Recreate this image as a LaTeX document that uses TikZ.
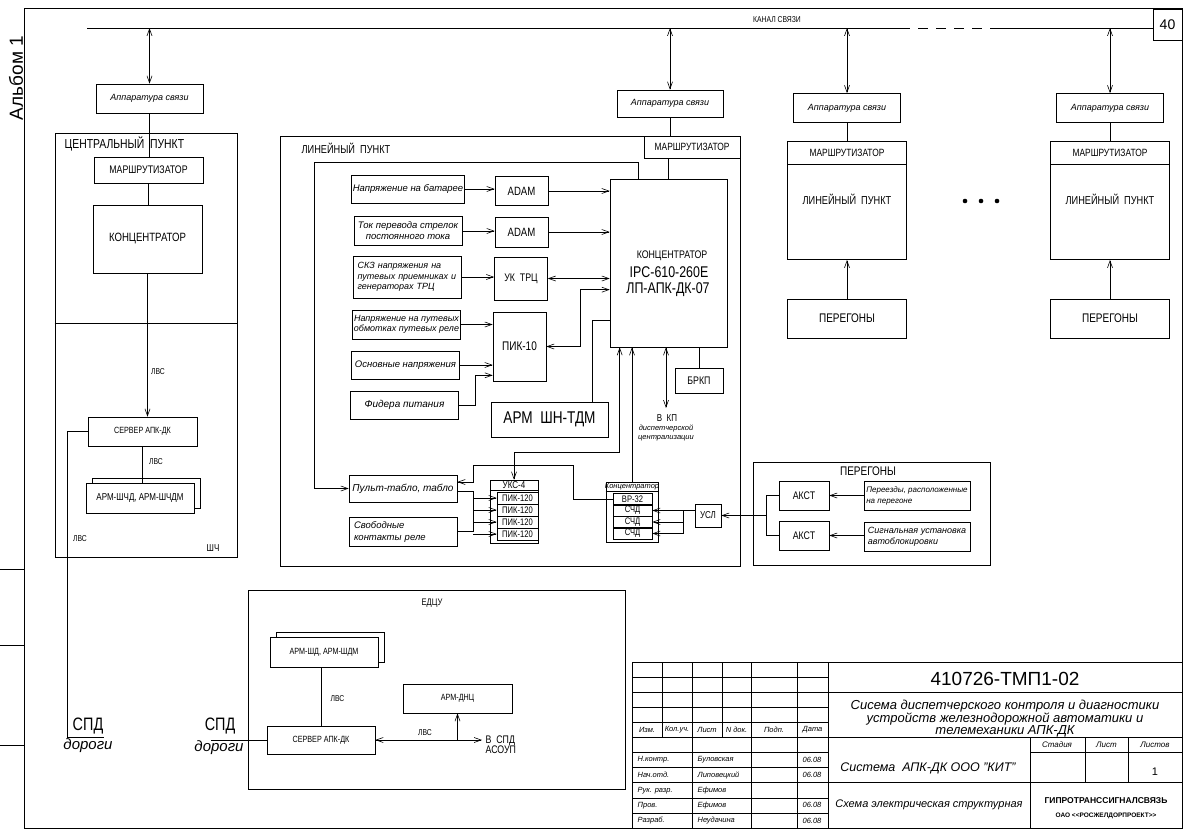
\documentclass[tikz,border=0pt]{standalone}
\usepackage{fontspec}
\setmainfont{Liberation Sans}
\newfontfamily\gost[FakeStretch=0.8]{Liberation Sans}
\usetikzlibrary{arrows.meta,calc}

\begin{document}
\begin{tikzpicture}[x=1pt,y=-1pt,line width=0.6pt,
  >={Straight Barb[length=7pt,width=5pt]},
  box/.style={draw,inner sep=1pt,align=center},
  frm/.style={draw,line width=0.8pt},
  gt/.style 2 args={font=\gost\fontsize{#1}{#2}\selectfont},
  hw/.style 2 args={font=\itshape\fontsize{#1}{#2}\selectfont}]
\path[fill=white] (0,0) rectangle (1185,835);
\useasboundingbox (0,0) rectangle (1185,835);

% Sheet frame
\draw[frm] (24,8) rectangle (1182,828);
\foreach \y in {569,645,745} \draw (0,\y) -- (24,\y);
\node[rotate=90,font=\fontsize{19}{19}\selectfont] (album) at (16,78) {Альбом 1};
\node[box,minimum width=29,minimum height=31,font=\fontsize{14}{14}\selectfont] (sheetno) at (1167.5,24.5) {40};

% Channel
\coordinate (chL) at (87,28);
\coordinate (chD1) at (900,28);
\coordinate (chD2) at (1000,28);
\draw (chL) -- (chD1);
\draw[dash pattern=on 10pt off 8pt] (chD1) -- (chD2);
\draw (chD2) -- (sheetno.west |- chL);
\node[gt={8.5}{9}] (chlabel) at (777,20) {КАНАЛ СВЯЗИ};

% Central point
\node[box,hw={9}{10},minimum width=107,minimum height=29] (apc1) at (149.5,98.5) {Аппаратура связи};
\node[frm,minimum width=182,minimum height=424] (cp) at (146,345) {};
\node[gt={13}{13},anchor=west] (cptitle) at (61,144) {ЦЕНТРАЛЬНЫЙ\ \ ПУНКТ};
\node[box,gt={11}{11},minimum width=109,minimum height=26] (mr1) at (148.5,170) {МАРШРУТИЗАТОР};
\node[box,gt={12}{12},minimum width=109,minimum height=68] (kc1) at (147.5,239) {КОНЦЕНТРАТОР};
\coordinate (cpdiv) at (0,323);
\draw (cp.west |- cpdiv) -- (cp.east |- cpdiv);
\node[box,gt={9}{9},minimum width=109,minimum height=29] (srv1) at (142.5,431.5) {СЕРВЕР АПК-ДК};
\node[box,minimum width=108,minimum height=30] (arm1b) at (146,493) {};
\node[box,fill=white,gt={10}{10},minimum width=108,minimum height=30] (arm1) at (140,498) {АРМ-ШЧД, АРМ-ШЧДМ};
\node[gt={8.5}{9}] (lvs1) at (158,372) {ЛВС};
\node[gt={8.5}{9}] (lvs2) at (156,462) {ЛВС};
\node[gt={8.5}{9}] (lvs3) at (80,539) {ЛВС};
\node[gt={10}{10}] (shch) at (213,548) {ШЧ};
\node[gt={18}{18}] (spd1) at (88,726) {СПД};
\node[hw={15}{15}] (dor1) at (88,746) {дороги};
\coordinate (spd1L) at (104,737);
\draw[<->] (apc1.north |- chL) -- (apc1.north);
\draw (apc1.south) -- (apc1.south |- mr1.north);
\draw (mr1.south) -- (mr1.south |- kc1.north);
\draw[->] (kc1.south) -- (kc1.south |- srv1.north);
\draw (srv1.south) -- (srv1.south |- arm1.north);
\draw (srv1.west) -- ++(-20,0) |- (spd1L);

% EDCU
\node[frm,minimum width=377,minimum height=199] (edcu) at (436.5,689.5) {};
\node[gt={9.5}{10}] (edcut) at (432,603) {ЕДЦУ};
\node[box,minimum width=108,minimum height=30] (arm2b) at (330,647) {};
\node[box,fill=white,gt={9}{9},minimum width=108,minimum height=30] (arm2) at (324,652) {АРМ-ШД, АРМ-ШДМ};
\node[box,gt={9}{9},minimum width=108,minimum height=28] (srv2) at (321,740) {СЕРВЕР АПК-ДК};
\node[box,gt={9}{9},minimum width=109,minimum height=29] (dnc) at (457.5,698.5) {АРМ-ДНЦ};
\node[gt={11}{10},align=left,anchor=west] (vspd) at (482,745) {В\ \ СПД\\АСОУП};
\node[gt={8.5}{9},anchor=west] (lvs4) at (327,699) {ЛВС};
\node[gt={8.5}{9}] (lvs5) at (425,733) {ЛВС};
\node[gt={18}{18}] (spd2) at (220,726) {СПД};
\node[hw={15}{15}] (dor2) at (219,748) {дороги};
\coordinate (spd2L) at (211,740);
\draw (srv2.north) -- (srv2.north |- arm2.south);
\draw (spd2L) -- (srv2.west);
\draw[<->] (srv2.east) -- (srv2.east -| vspd.west);
\draw[->] (dnc.south |- srv2.east) -- (dnc.south);

% Line point
\node[box,hw={9}{10},minimum width=106,minimum height=27] (apc2) at (670,103.5) {Аппаратура связи};
\node[frm,minimum width=460,minimum height=430] (lp) at (510,351) {};
\node[gt={11.5}{12},anchor=west] (lptitle) at (298,148) {ЛИНЕЙНЫЙ\ \ ПУНКТ};
\node[box,gt={10.5}{11},minimum width=96,minimum height=22,anchor=north east] (mr2) at (lp.north east) {МАРШРУТИЗАТОР};
\node[box,minimum width=117,minimum height=168] (kc2) at (668.5,263) {};
\node[gt={11}{11}] (kc2a) at (672,256) {КОНЦЕНТРАТОР};
\node[gt={15.5}{15.5}] (kc2b) at (669,272) {IPC-610-260E};
\node[gt={15.5}{15.5}] (kc2c) at (668,290) {ЛП-АПК-ДК-07};
\node[box,gt={11}{11},minimum width=48,minimum height=25] (brkp) at (699,380.5) {БРКП};
\coordinate (vkp) at (666,408);
\node[gt={10}{10}] (vkpt) at (667,418) {В\ \ КП};
\node[hw={7.5}{8}] (vkpt2) at (666,428) {диспетчерской};
\node[hw={7.5}{8}] (vkpt3) at (666,438) {централизации};
\draw[<->] (apc2.north |- chL) -- (apc2.north);
\draw (apc2.south) -- (apc2.south |- mr2.north);
\draw (mr2.south -| kc2.north) -- (kc2.north);
\draw (brkp.north |- kc2.south) -- (brkp.north);
\draw[<->] (kc2.south -| vkp) -- (vkp);

% Inputs
\node[box,hw={9.5}{11},minimum width=108,minimum height=28] (in1) at (408,189) {Напряжение на батарее};
\node[box,gt={12}{12},minimum width=53,minimum height=29] (adam1) at (521.5,191) {ADAM};
\node[box,hw={9.5}{11},minimum width=108,minimum height=29] (in2) at (408,231) {Ток перевода стрелок\\постоянного тока};
\node[box,gt={12}{12},minimum width=53,minimum height=30] (adam2) at (521.5,232) {ADAM};
\node[box,hw={9}{10.5},align=left,text width=100,inner xsep=4pt,minimum height=42] (in3) at (407.5,277) {СКЗ напряжения на\\путевых приемниках и\\генераторах ТРЦ};
\node[box,gt={11}{11},minimum width=53,minimum height=43] (uktrc) at (521,278.5) {УК\ \ ТРЦ};
\node[box,hw={9}{10.5},minimum width=108,minimum height=29] (in4) at (406.5,324.5) {Напряжение на путевых\\обмотках путевых реле};
\node[box,gt={12.5}{12},minimum width=53,minimum height=69] (pik10) at (519.5,346.5) {ПИК-10};
\node[box,hw={9.5}{11},minimum width=108,minimum height=28] (in5) at (405.5,365) {Основные напряжения};
\node[box,hw={10}{11},minimum width=108,minimum height=28] (in6) at (404.5,405) {Фидера питания};
\node[box,gt={17}{17},minimum width=117,minimum height=35] (armtdm) at (549.5,419.5) {АРМ\ \ ШН-ТДМ};
\draw[->] (in1.east) -- (in1.east -| adam1.west);
\draw[->] (adam1.east) -- (adam1.east -| kc2.west);
\draw[->] (in2.east) -- (in2.east -| adam2.west);
\draw[->] (adam2.east) -- (adam2.east -| kc2.west);
\draw[->] (in3.east) -- (in3.east -| uktrc.west);
\draw[<->] (uktrc.east) -- (uktrc.east -| kc2.west);
\draw[->] (in4.east) -- (in4.east -| pik10.west);
\draw[->] (in5.east) -- (in5.east -| pik10.west);
\draw[->] (in6.east) -- ++(16,0) |- ($(pik10.south west)+(0,-6)$);
\draw[<->] (pik10.east) -- ++(34,0) |- ($(kc2.north west)+(0,111)$);
\draw (armtdm.north) ++(42.5,0) |- ($(kc2.north west)+(0,142)$);

% Desk, UKS-4
\node[box,hw={10}{11},minimum width=108,minimum height=27] (pult) at (403,488.5) {Пульт-табло, табло};
\node[box,hw={9.5}{12},align=left,text width=98,inner xsep=5pt,minimum height=29] (svob) at (403,531.5) {Свободные\\контакты реле};
\coordinate (lpin) at (314,162);
\draw[->] (kc2.north) ++(-30.5,0) |- (lpin) |- (pult.west);
\node[box,minimum width=48,minimum height=63] (uks) at (514,511.5) {};
\node[gt={10}{10}] (ukst) at (514,485.5) {УКС-4};
\draw ($(uks.north west)+(0,11)$) -- ($(uks.north east)+(0,11)$);
\foreach \i/\y in {1/498,2/510,3/522,4/534}
  \node[box,gt={9.5}{10},minimum width=41,minimum height=12,inner sep=0pt] (pik\i) at (517.5,\y) {ПИК-120};
\coordinate (bus) at (473,0);
\draw ($(pult.east)+(0,3)$) -- ++(16,0) |- (svob.east);
\foreach \i in {1,...,4} \draw[->] (bus |- pik\i.west) -- (pik\i.west);

% Small concentrator
\node[box,minimum width=52,minimum height=60] (conc) at (632,512) {};
\node[hw={7.5}{8}] (conct) at (632,487) {Концентратор};
\draw ($(conc.north west)+(0,10)$) -- ($(conc.north east)+(0,10)$);
\node[box,gt={9.5}{10},minimum width=39,minimum height=11,inner sep=0pt] (vr) at (632.5,499) {ВР-32};
\foreach \i/\y in {1/510.5,2/522,3/533.5}
  \node[box,gt={9.5}{10},minimum width=39,minimum height=11,inner sep=0pt] (sch\i) at (632.5,\y) {СЧД};
\draw[->] (vr.west) -- ++(-39,0) -- ++(0,-34) -| ($(pult.east)+(16,-6.5)$) -- ($(pult.east)+(0,-6.5)$);
\draw[<->] ($(kc2.south west)+(10,0)$) -- ++(0,105) -| (uks.north);
\draw[->] (conc.north) -- (conc.north |- kc2.south);
\node[box,gt={10}{10},minimum width=26,minimum height=23] (usl) at (708,515.5) {УСЛ};
\coordinate (ubus) at (683,0);
\draw (usl.west |- sch1.east) -| (ubus |- sch3.east);
\foreach \i in {1,2,3} \draw[->] (ubus |- sch\i.east) -- (sch\i.east);

% Hauls
\node[frm,minimum width=237,minimum height=103] (pg) at (871.5,513.5) {};
\node[gt={12.5}{12}] (pgt) at (868,471) {ПЕРЕГОНЫ};
\node[box,gt={11}{11},minimum width=50,minimum height=29] (akst1) at (804,495.5) {АКСТ};
\node[box,gt={11}{11},minimum width=50,minimum height=29] (akst2) at (804,535.5) {АКСТ};
\node[box,hw={8}{11},align=left,minimum width=106,minimum height=29] (per1) at (917,495.5) {Переезды, расположенные\\на перегоне};
\node[box,hw={9}{11},align=left,minimum width=106,minimum height=29] (per2) at (917,537) {Сигнальная установка\\автоблокировки};
\draw[->] (per1.west) -- (akst1.east);
\draw[->] (per2.west |- akst2.east) -- (akst2.east);
\coordinate (pj) at (766,515.5);
\draw (akst1.west) -| (pj);
\draw (akst2.west) -| (pj);
\draw[->] (pj) -- (pj -| usl.east);

% Other line points
\foreach \n/\x in {3/847,4/1110}{
  \node[box,hw={9}{10},minimum width=107,minimum height=29] (apc\n) at (\x,108) {Аппаратура связи};
  \node[box,gt={10.5}{11},minimum width=119,minimum height=23] (mr\n) at (\x,152.5) {МАРШРУТИЗАТОР};
  \node[box,minimum width=119,minimum height=95,anchor=north] (lp\n) at (mr\n.south) {};
  \node[gt={11.5}{12}] (lpt\n) at (\x,199) {ЛИНЕЙНЫЙ\ \ ПУНКТ};
  \node[box,gt={12.5}{12},minimum width=119,minimum height=39] (pg\n) at (\x,318.5) {ПЕРЕГОНЫ};
  \draw[<->] (apc\n.north |- chL) -- (apc\n.north);
  \draw (apc\n.south) -- (mr\n.north);
  \draw[->] (pg\n.north) -- (lp\n.south);
}
\foreach \x in {965,981,997} \fill (\x,201) circle (2.3);

% Title block
\draw[frm] (632,662) rectangle (1182,828);
\foreach \k in {1,...,10} \draw (632,662+\k*15.09) -- (828,662+\k*15.09);
\foreach \x in {692,751,797,828} \draw (\x,662) -- (\x,828);
\foreach \x in {662,722} \draw (\x,662) -- (\x,737.45);
\draw (828,692.2) -- (1182,692.2);
\draw (828,737.5) -- (1182,737.5);
\draw (828,782.7) -- (1182,782.7);
\draw (1030,737.5) -- (1030,828);
\draw (1030,752.5) -- (1182,752.5);
\foreach \x in {1085,1128} \draw (\x,737.5) -- (\x,782.7);
\foreach \t/\x [count=\i] in {Изм./647,Кол.уч./677,Лист/707,N док./736.5,Подп./774,Дата/812.5}
  \node[hw={7.5}{8}] (hd\i) at (\x,730) {\t};
\foreach \a/\b [count=\i] in {Н.контр./Буловская,Нач.отд./Липовецкий,Рук. разр./Ефимов,Пров./Ефимов,Разраб./Неудачина}{
  \node[hw={7.5}{8},anchor=west] (role\i) at (634,745+\i*15.09) {\a};
  \node[hw={7.5}{8},anchor=west] (name\i) at (694,745+\i*15.09) {\b};
}
\foreach \i in {1,2,4,5} \node[hw={7.5}{8},anchor=west] (date\i) at (799,745+\i*15.09) {06.08};
\node[font=\fontsize{19}{19}\selectfont] (docnum) at (1005,679) {410726-ТМП1-02};
\node[hw={13}{12.5},align=center] (title) at (1005,719) {Сисема диспетчерского контроля и диагностики\\устройств железнодорожной автоматики и\\телемеханики АПК-ДК};
\node[hw={12.5}{13}] (sys) at (928,768) {Система\ \ АПК-ДК ООО "КИТ"};
\node[hw={11}{12}] (schema) at (929,805) {Схема электрическая структурная};
\node[hw={8}{8}] (st1) at (1057,745) {Стадия};
\node[hw={8}{8}] (st2) at (1106.5,745) {Лист};
\node[hw={8}{8}] (st3) at (1155,745) {Листов};
\node[font=\fontsize{11}{11}\selectfont] (sheets) at (1155,772) {1};
\node[font=\bfseries\fontsize{8.5}{9}\selectfont] (org1) at (1106,801) {ГИПРОТРАНССИГНАЛСВЯЗЬ};
\node[font=\bfseries\fontsize{6.5}{7}\selectfont] (org2) at (1106,816) {ОАО <\kern0pt<РОСЖЕЛДОРПРОЕКТ>\kern0pt>};
\end{tikzpicture}
\end{document}
